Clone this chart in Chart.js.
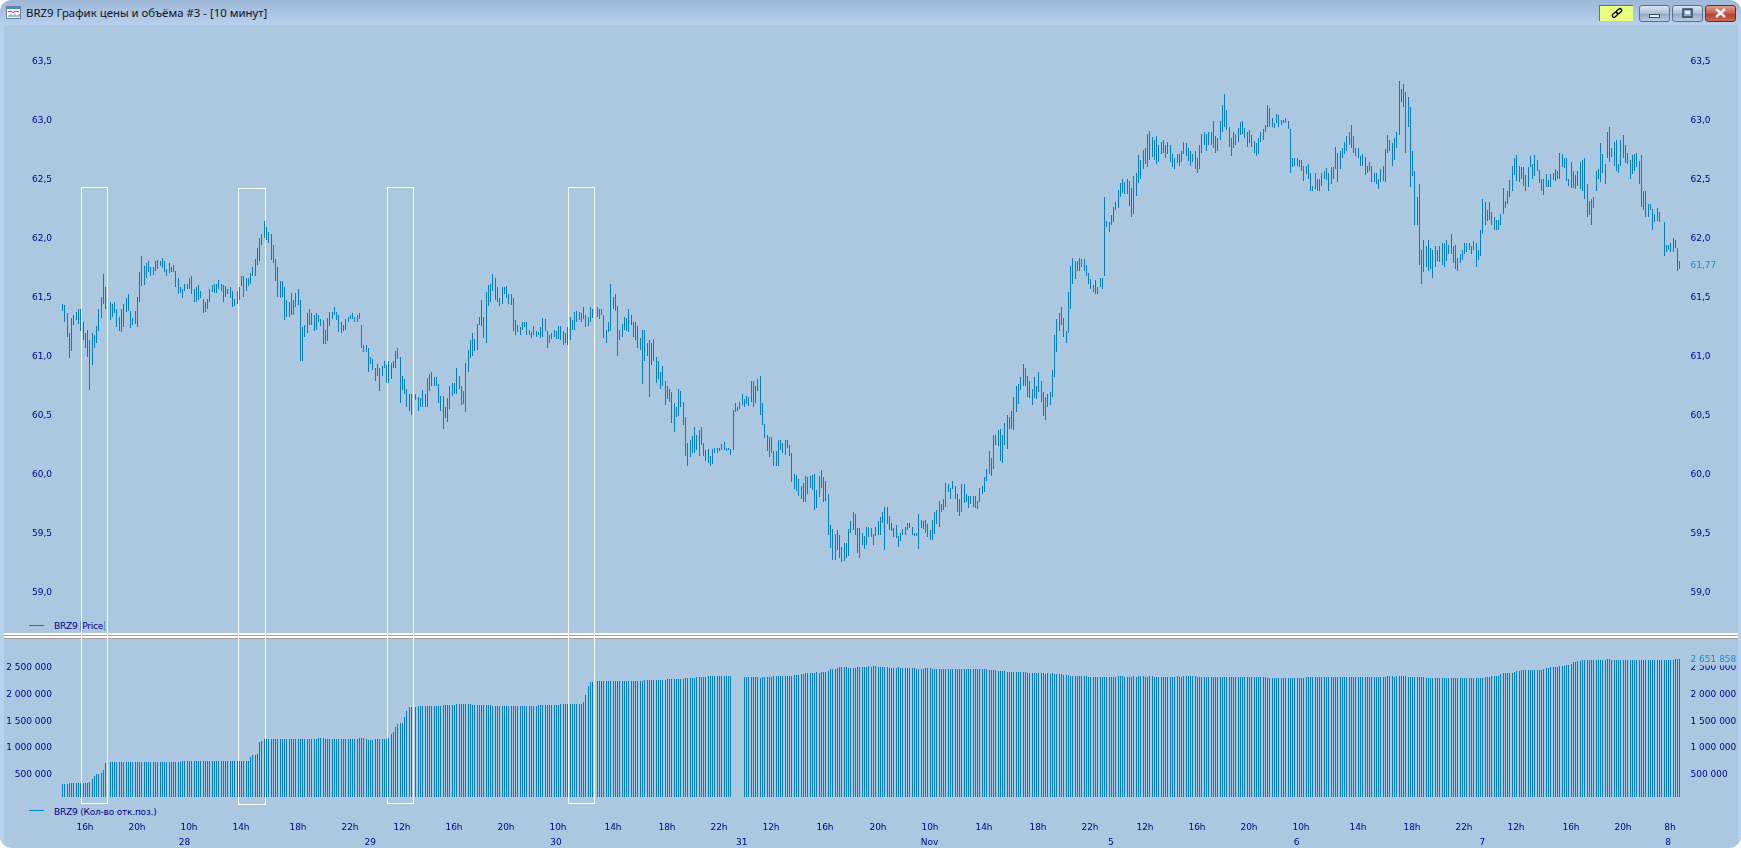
<!DOCTYPE html>
<html>
<head>
<meta charset="utf-8">
<title>BRZ9</title>
<script src="https://cdn.jsdelivr.net/npm/chart.js@4/dist/chart.umd.min.js"></script>
<style>
html, body { margin: 0; height: 100%; background: #fff; overflow: hidden; }
#win { position: absolute; left: 0; top: 0; width: 1741px; height: 848px; background: #abc8e0; border-radius: 12px; overflow: hidden; }
#titlebar { position: absolute; left: 0; top: 0; right: 0; height: 25px; background: linear-gradient(#9db8d8, #b7d0ec); }
#edgeL { position: absolute; left: 0; top: 25px; bottom: 0; width: 4px; background: #b8d1ec; }
#edgeR { position: absolute; right: 0; top: 25px; bottom: 0; width: 3px; background: #b8d1ec; }
#title { position: absolute; left: 26px; top: 5px; font: 11.4px "Noto Sans", sans-serif; color: #10131a; white-space: nowrap; }
#icon { position: absolute; left: 6px; top: 6px; }
.sep { position: absolute; left: 4px; right: 3px; height: 2px; background: #fff; border-bottom: 1px solid #a0a0a0; }
.btn { position: absolute; top: 5px; height: 15px; border: 1px solid #5d6f86; border-radius: 3px; background: linear-gradient(#dbe6f2, #a9bfd8 50%, #90a9c6 55%, #b9cde2); }
#link { left: 1599px; width: 33px; height: 15px; border: 0; border-top: 1px solid #6d6d6d; border-left: 1px solid #6d6d6d; border-radius: 0; background: #e6ff7c; }
#btnMin { left: 1639px; width: 29px; }
#btnMax { left: 1672px; width: 29px; }
#btnClose { left: 1705px; width: 29px; background: linear-gradient(#e39b8c, #c75b48 50%, #b2402e 55%, #cc6a55); border-color: #6e2b24; }
.btn svg, #link svg { position: absolute; left: 0; top: 0; }
canvas { position: absolute; left: 0; top: 0; }
.legend { position: absolute; font: 9px "DejaVu Sans", sans-serif; color: #00008b; white-space: nowrap; letter-spacing: -0.2px; }
.legendLine { position: absolute; width: 15px; height: 1px; }
#priceTag { border-left: 1px solid #6f8fc0; border-right: 1px solid #6f8fc0; padding: 0 1px; }
</style>
</head>
<body>
<div id="win">
  <div id="titlebar"></div>
  <div id="edgeL"></div>
  <div id="edgeR"></div>
  <svg id="icon" width="15" height="13" viewBox="0 0 15 13">
    <rect x="0.5" y="0.5" width="14" height="12" fill="#fff" stroke="#6a7f99"/>
    <rect x="1" y="1" width="13" height="2" fill="#3f8fd0"/>
    <path d="M2 6 L5 5 L7 6.5 L10 5 L13 6" stroke="#d8302a" fill="none"/>
    <path d="M3 11V9M5 11V8M7 11V9M9 11V8M11 11V9M13 11V8" stroke="#2f7fc0" fill="none"/>
  </svg>
  <div id="title">BRZ9 График цены и объёма #3 - [10 минут]</div>
  <div class="btn" id="link">
    <svg width="33" height="15" viewBox="0 0 33 15"><g stroke="#000" stroke-width="1.3" fill="none"><rect x="12" y="7" width="6" height="3.4" rx="1.6" transform="rotate(-40 15 8.7)"/><rect x="16" y="3.5" width="6" height="3.4" rx="1.6" transform="rotate(-40 19 5.2)"/></g></svg>
  </div>
  <div class="btn" id="btnMin"><svg width="29" height="15"><rect x="9.5" y="8.5" width="10" height="3" fill="#e8eef5" stroke="#3c4a5c"/></svg></div>
  <div class="btn" id="btnMax"><svg width="29" height="15"><rect x="10" y="3" width="9" height="8" fill="#8ea8c4" stroke="#2f3b4b" stroke-width="1.4"/><rect x="12" y="5" width="5" height="3" fill="#e8eef5"/></svg></div>
  <div class="btn" id="btnClose"><svg width="29" height="15"><path d="M10 3L19 11M19 3L10 11" stroke="#f4f4f4" stroke-width="2.6"/></svg></div>
  <div class="sep" style="top:633px"></div>
  <div class="sep" style="top:636px"></div>
  <div class="legendLine" style="left:29px;top:625px;background:#2f6fa8"></div>
  <div class="legend" style="left:54px;top:621px">BRZ9 <span id="priceTag">Price</span></div>
  <div class="legendLine" style="left:29px;top:810px;background:#0088cc"></div>
  <div class="legend" style="left:54px;top:807px">BRZ9 (Кол-во отк.поз.)</div>
  <canvas id="chart" width="1741" height="848"></canvas>
</div>
<script>
// high of each 10 minute bar
const priceHigh = [
61.44,61.43,61.36,61.19,61.32,61.34,61.37,61.39,61.39,61.28,
61.19,61.22,61.13,61.19,61.17,61.25,61.39,61.50,61.69,61.58,
61.47,61.45,61.44,61.45,61.39,61.33,61.39,61.44,61.49,61.52,
61.38,61.32,61.38,61.50,61.71,61.84,61.76,61.78,61.80,61.75,
61.75,61.80,61.81,61.80,61.83,61.80,61.73,61.78,61.75,61.77,
61.72,61.66,61.58,61.56,61.61,61.61,61.66,61.67,61.56,61.58,
61.60,61.55,61.48,61.45,61.48,61.56,61.60,61.61,61.61,61.64,
61.61,61.60,61.59,61.56,61.58,61.55,61.48,61.55,61.58,61.67,
61.67,61.66,61.66,61.70,61.75,61.82,61.91,62.00,62.03,62.14,
62.09,62.05,62.03,61.94,61.82,61.75,61.63,61.63,61.58,61.47,
61.45,61.53,61.47,61.53,61.56,61.47,61.24,61.26,61.36,61.39,
61.36,61.34,61.36,61.34,61.31,61.30,61.22,61.32,61.37,61.37,
61.41,61.37,61.34,61.28,61.26,61.31,61.33,61.34,
61.36,61.33,61.34,61.36,61.26,61.09,61.09,61.06,60.99,60.97,
60.89,60.93,60.89,60.91,60.95,60.92,60.95,60.94,60.95,61.04,
61.06,60.99,60.83,60.80,60.72,60.67,60.67,60.67,60.67,60.65,
60.64,60.71,60.67,60.81,60.84,60.86,60.82,60.82,60.76,60.66,
60.66,60.56,60.64,60.74,60.77,60.77,60.89,60.83,60.74,60.70,
60.94,61.05,61.13,61.19,61.14,61.27,61.33,61.47,61.33,61.54,
61.60,61.61,61.69,61.66,61.58,61.49,61.58,61.58,61.59,61.52,
61.52,61.49,61.30,61.26,61.24,61.28,61.28,61.28,61.22,61.20,
61.25,61.21,61.20,61.24,61.32,61.31,61.21,61.17,61.19,61.22,
61.21,61.25,61.25,61.21,61.19,61.24,61.33,61.30,61.37,61.38,
61.37,61.36,61.41,61.34,61.33,61.41,61.39,61.40,61.41,61.39,
61.39,61.34,61.22,61.28,61.61,61.50,61.52,61.42,61.22,61.27,
61.33,
61.32,61.39,61.34,61.28,61.28,61.25,61.15,61.22,61.22,61.11,
61.13,61.11,61.14,60.99,60.95,60.86,60.91,60.78,60.74,60.72,
60.69,60.60,60.56,60.72,60.70,60.61,60.48,60.26,60.28,60.32,
60.39,60.33,60.37,60.39,60.26,60.20,60.21,60.15,60.21,60.22,
60.22,60.22,60.25,60.27,60.22,60.22,60.21,60.54,60.60,60.56,
60.61,60.67,60.63,60.66,60.65,60.78,60.78,60.74,60.80,60.83,
60.60,60.42,60.33,60.31,60.31,60.19,60.19,60.28,60.28,60.26,
60.28,60.28,60.24,60.17,60.00,59.99,59.95,59.89,59.92,59.98,
59.97,59.98,59.99,60.00,59.86,59.98,60.03,59.97,59.94,59.83,
59.56,59.53,59.49,59.52,59.48,59.38,59.41,59.41,59.53,59.60,
59.67,59.66,59.54,59.54,59.50,59.47,59.55,59.55,59.54,59.49,
59.55,59.60,59.63,59.67,59.72,59.72,59.64,59.58,59.54,59.56,
59.47,
59.50,59.53,59.55,59.58,59.58,59.55,59.50,59.50,59.66,59.61,
59.60,59.61,59.57,59.52,59.61,59.67,59.69,59.77,59.74,59.78,
59.92,59.91,59.88,59.94,59.89,59.83,59.78,59.91,59.91,59.83,
59.81,59.81,59.81,59.81,59.77,59.88,59.89,59.97,60.04,60.19,
60.13,60.33,60.33,60.37,60.38,60.33,60.43,60.50,60.48,60.53,
60.65,60.74,60.76,60.82,60.93,60.89,60.83,60.78,60.72,60.82,
60.74,60.86,60.78,60.69,60.65,60.67,60.69,60.88,61.17,61.31,
61.36,61.41,61.32,61.21,61.54,61.76,61.83,61.80,61.80,61.83,
61.82,61.82,61.77,61.70,61.65,61.60,61.64,61.58,61.66,61.66,
62.34,62.14,62.13,62.19,62.26,62.30,62.40,
62.46,62.50,62.47,62.50,62.48,62.42,62.52,
62.55,62.70,62.66,62.74,62.76,62.88,62.90,62.85,62.83,62.86,62.78,
62.81,62.83,62.78,62.81,62.78,62.71,62.67,62.71,62.71,62.73,
62.81,62.80,62.76,62.73,62.71,62.73,62.67,62.78,62.88,62.89,
62.88,62.89,62.89,62.99,62.86,62.84,62.99,63.12,63.22,63.08,
62.94,62.84,62.89,62.88,62.93,62.98,62.99,62.93,62.89,62.91,
62.87,62.82,62.80,62.84,62.89,62.92,62.95,63.12,63.10,63.01,
62.97,63.05,63.04,63.00,63.00,63.01,62.99,62.92,62.67,62.67,
62.67,62.66,62.66,62.61,62.61,62.62,62.55,62.44,62.55,62.50,
62.50,62.55,62.56,62.59,62.55,62.60,62.60,62.77,62.72,62.73,
62.76,62.81,62.86,62.89,62.95,62.86,62.76,62.76,62.69,62.71,
62.68,62.61,62.64,62.61,62.55,62.55,62.50,62.58,62.61,62.75,
62.87,62.83,62.80,62.84,62.89,63.33,63.26,63.30,63.23,63.19,
63.11,62.73,62.56,62.34,62.45,61.89,61.98,61.93,61.98,
61.91,61.89,61.93,61.89,61.93,61.95,61.95,61.98,61.94,62.03,
61.93,61.94,61.83,61.86,61.89,61.95,61.95,61.95,61.93,61.97,
61.95,61.89,62.06,62.33,62.30,62.23,62.30,62.22,62.17,62.15,
62.15,62.20,62.42,62.31,62.39,62.49,62.61,62.67,62.70,62.61,
62.60,62.60,62.53,62.60,62.69,62.62,62.70,62.66,62.57,62.50,
62.50,62.54,62.49,62.54,62.55,62.58,62.56,62.72,62.71,62.67,
62.67,62.50,62.64,62.56,62.53,62.56,62.64,62.66,62.67,62.45,
62.31,62.33,62.34,62.56,62.58,62.80,62.71,62.62,62.89,62.94,
62.76,62.81,62.83,62.62,62.83,62.87,62.78,62.72,62.66,62.70,
62.71,62.72,62.65,62.70,62.39,62.39,62.28,62.28,62.24,62.20,
62.25,62.22,null,62.13,61.94,61.94,61.95,62.00,61.98,61.91,
61.80
];

// low of each 10 minute bar
const priceLow = [
61.38,61.28,61.16,60.98,61.04,61.26,61.30,61.27,61.21,61.13,
61.06,60.99,60.71,60.92,61.06,61.11,61.21,61.32,61.44,61.39,
61.37,61.30,61.33,61.36,61.24,61.21,61.20,61.24,61.37,61.38,
61.23,61.26,61.27,61.24,61.45,61.59,61.60,61.66,61.71,61.67,
61.68,61.72,61.73,61.76,61.74,61.71,61.67,61.70,61.71,61.71,
61.58,61.52,61.53,61.49,61.55,61.56,61.56,61.52,61.45,61.45,
61.47,61.49,61.36,61.37,61.39,61.45,61.54,61.53,61.53,61.56,
61.55,61.45,61.50,61.52,61.49,61.41,61.42,61.44,61.47,61.59,
61.50,61.55,61.59,61.61,61.67,61.67,61.77,61.80,61.94,62.00,
61.98,61.95,61.81,61.78,61.63,61.50,61.49,61.50,61.30,61.33,
61.33,61.34,61.34,61.41,61.43,60.95,60.95,61.16,61.19,61.26,
61.26,61.21,61.22,61.28,61.25,61.10,61.10,61.12,61.25,61.31,
61.34,61.30,61.20,61.19,61.21,61.22,61.28,61.31,
61.31,61.28,61.28,61.31,61.06,61.03,61.03,60.86,60.93,60.88,
60.78,60.83,60.70,60.83,60.89,60.77,60.77,60.80,60.89,60.89,
60.97,60.60,60.71,60.67,60.56,60.53,60.50,60.60,60.62,60.53,
60.56,60.56,60.56,60.56,60.70,60.74,60.74,60.74,60.60,60.53,
60.38,60.47,60.44,60.55,60.66,60.67,60.67,60.72,60.58,60.59,
60.52,60.86,60.98,61.00,61.04,61.05,61.26,61.25,61.15,61.11,
61.42,61.45,61.55,61.47,61.45,61.42,61.44,61.52,61.49,61.44,
61.43,61.21,61.17,61.20,61.17,61.22,61.24,61.17,61.17,61.15,
61.17,61.16,61.17,61.15,61.16,61.21,61.06,61.11,61.14,61.16,
61.14,61.14,61.13,61.09,61.11,61.09,61.13,61.22,61.22,61.28,
61.30,61.28,61.31,61.24,61.25,61.28,61.32,61.33,61.33,61.31,
61.34,61.15,61.11,61.20,61.21,61.39,61.38,61.00,61.13,61.16,
61.22,
61.21,61.20,61.26,61.16,61.13,61.06,61.05,60.76,60.95,61.00,
60.65,60.92,60.95,60.77,60.80,60.72,60.74,60.58,60.63,60.61,
60.43,60.35,60.48,60.49,60.56,60.41,60.15,60.06,60.14,60.17,
60.17,60.20,60.15,60.24,60.15,60.11,60.09,60.06,60.08,60.17,
60.17,60.19,60.20,60.20,60.19,60.20,60.16,60.20,60.52,60.53,
60.55,60.58,60.56,60.59,60.57,60.61,60.56,60.60,60.70,60.50,
60.41,60.30,60.19,60.14,60.17,60.06,60.06,60.06,60.20,60.17,
60.16,60.22,60.15,59.93,59.87,59.85,59.81,59.78,59.76,59.76,
59.83,59.88,59.86,59.69,59.71,59.80,59.88,59.76,59.77,59.48,
59.37,59.27,59.27,59.35,59.28,59.25,59.26,59.28,59.30,59.50,
59.52,59.48,59.33,59.28,59.39,59.36,59.39,59.46,59.46,59.39,
59.47,59.48,59.48,59.58,59.35,59.57,59.52,59.51,59.46,59.45,
59.38,
59.43,59.48,59.48,59.52,59.54,59.48,59.47,59.47,59.36,59.54,
59.53,59.50,59.46,59.44,59.44,59.49,59.57,59.55,59.67,59.69,
59.72,59.84,59.78,59.87,59.78,59.67,59.64,59.67,59.75,59.76,
59.71,59.74,59.72,59.71,59.70,59.76,59.83,59.84,59.94,60.00,
59.98,60.04,60.24,60.23,60.11,60.09,60.24,60.21,60.38,60.38,
60.37,60.52,60.59,60.71,60.74,60.74,60.65,60.64,60.58,60.64,
60.63,60.69,60.61,60.49,60.45,60.56,60.58,60.65,60.82,61.03,
61.21,61.26,61.16,61.11,61.19,61.39,61.61,61.65,61.72,61.72,
61.75,61.72,61.67,61.61,61.56,61.54,61.52,61.52,61.58,61.56,
61.67,62.09,62.05,62.11,62.13,62.23,62.25,
62.34,62.38,62.37,62.37,62.27,62.17,62.20,
62.35,62.46,62.50,62.58,62.62,62.60,62.66,62.68,62.66,62.62,62.64,
62.71,62.72,62.67,62.71,62.64,62.60,62.58,62.63,62.61,62.64,
62.71,62.69,62.65,62.61,62.64,62.58,62.55,62.58,62.72,62.78,
62.73,62.78,62.78,62.76,62.72,62.73,62.83,62.89,62.94,62.91,
62.77,62.69,62.76,62.78,62.81,62.87,62.88,62.84,62.77,62.80,
62.77,62.72,62.69,62.71,62.81,62.83,62.89,62.94,62.94,62.94,
62.93,62.97,62.94,62.95,62.97,62.97,62.92,62.55,62.60,62.61,
62.61,62.60,62.56,62.48,62.54,62.50,62.39,62.39,62.41,62.39,
62.39,62.44,62.50,62.49,62.39,62.45,62.50,62.58,62.47,62.58,
62.67,62.71,62.73,62.78,62.76,62.72,62.69,62.67,62.61,62.61,
62.53,62.55,62.56,62.47,62.47,62.45,62.41,62.47,62.48,62.47,
62.72,62.73,62.61,62.66,62.76,62.87,63.15,63.11,62.72,62.94,
62.43,62.52,62.11,62.11,61.77,61.61,61.71,61.75,61.72,
61.73,61.66,61.75,61.80,61.79,61.77,61.75,61.80,61.86,61.86,
61.78,61.73,61.72,61.78,61.81,61.86,61.88,61.89,61.86,61.89,
61.75,61.81,61.84,62.03,62.11,62.14,62.15,62.11,62.06,62.06,
62.06,62.11,62.20,62.25,62.28,62.34,62.39,62.53,62.48,62.47,
62.50,62.44,62.39,62.43,62.60,62.50,62.52,62.56,62.46,62.39,
62.36,62.43,62.43,62.43,62.49,62.48,62.50,62.50,62.60,62.59,
62.48,62.44,62.42,62.42,62.41,62.44,62.41,62.39,62.33,62.17,
62.19,62.11,62.25,62.39,62.50,62.47,62.55,62.45,62.67,62.64,
62.68,62.61,62.56,62.55,62.61,62.67,62.63,62.62,62.50,62.54,
62.56,62.60,62.45,62.26,62.23,62.17,62.17,62.23,62.06,62.13,
62.14,62.13,null,61.84,61.88,61.89,61.88,61.88,61.91,61.72,
61.73
];

// open positions per bar, in thousands
const openInterestK = [
320,320,320,340,340,340,340,340,340,340,
340,340,350,410,470,505,510,525,580,710,
730,730,730,730,730,730,730,730,730,730,
730,730,730,730,730,730,730,730,730,730,
730,730,730,730,730,730,730,730,730,730,
730,730,730,750,750,750,750,750,750,750,
750,750,750,750,750,750,750,750,750,750,
750,750,750,750,750,750,750,750,750,750,
750,750,750,820,860,865,870,1100,1120,1155,
1155,1155,1155,1155,1155,1155,1155,1155,1155,1155,
1155,1155,1155,1155,1155,1155,1155,1155,1155,1155,
1155,1155,1155,1170,1170,1170,1155,1155,1155,1155,
1155,1155,1155,1155,1155,1155,1155,1155,1155,1155,
1155,1170,1170,1170,1150,1140,1140,1140,1155,1155,
1155,1155,1155,1155,1170,1250,1290,1380,1430,1450,
1450,1565,1680,1750,1750,1750,1750,1770,1770,1770,
1770,1770,1770,1770,1770,1770,1770,1770,1790,1790,
1790,1790,1790,1790,1807,1807,1807,1807,1807,1807,
1807,1790,1790,1790,1790,1790,1790,1790,1790,1790,
1770,1770,1770,1770,1770,1770,1770,1770,1770,1770,
1770,1770,1770,1770,1770,1770,1770,1770,1770,1770,
1790,1790,1790,1790,1790,1790,1790,1790,1790,1790,
1807,1807,1807,1807,1807,1807,1807,1807,1807,1807,
1840,1970,2140,2215,2215,2215,2230,2230,2230,2230,
2230,2230,2230,2230,2230,2230,2230,2230,2230,2230,
2230,2230,2230,2230,2230,2230,2230,2250,2250,2250,
2250,2250,2250,2250,2250,2250,2250,2270,2270,2270,
2270,2270,2270,2270,2270,2290,2290,2290,2290,2290,
2310,2310,2310,2310,2310,2330,2330,2330,2330,2330,
2330,2330,2330,2330,2330,2330,null,null,null,null,
null,2310,2310,2310,2310,2310,2310,2310,2290,2310,
2310,2310,2310,2310,2330,2330,2330,2330,2330,2330,
2330,2330,2330,2350,2350,2350,2365,2365,2380,2380,
2380,2380,2380,2400,2380,2400,2400,2400,2420,2457,
2457,2457,2475,2495,2495,2495,2495,2475,2475,2475,
2475,2495,2495,2495,2495,2495,2510,2495,2510,2510,
2495,2495,2495,2495,2495,2475,2475,2475,2475,2495,
2475,2475,2475,2475,2475,2475,2475,2457,2457,2457,
2457,2475,2475,2475,2457,2457,2457,2457,2457,2457,
2457,2457,2457,2457,2457,2457,2457,2457,2457,2457,
2457,2457,2457,2457,2457,2457,2457,2457,2457,2440,
2440,2440,2440,2420,2420,2420,2420,2400,2400,2400,
2400,2400,2400,2400,2400,2400,2380,2380,2380,2380,
2380,2380,2380,2380,2365,2380,2365,2380,2365,2365,
2365,2365,2345,2345,2345,2330,2330,2330,2330,2330,
2330,2330,2330,2310,2310,2310,2310,2310,2310,2310,
2310,2310,2310,2310,2310,2310,2330,2330,2330,2310,
2310,2310,2310,2330,2310,2330,2330,2330,2310,2310,
2330,2330,2310,2310,2310,2310,2310,2310,2310,2310,
2310,2310,2330,2310,2310,2330,2330,2330,2330,2330,
2330,2310,2310,2310,2310,2310,2310,2310,2310,2310,
2310,2310,2310,2310,2310,2310,2310,2310,2310,2310,
2310,2310,2310,2310,2310,2310,2310,2310,2310,2310,
2310,2310,2290,2290,2290,2290,2290,2290,2290,2290,
2290,2290,2290,2290,2290,2290,2290,2290,2290,2310,
2310,2310,2310,2310,2310,2310,2310,2310,2310,2310,
2310,2310,2310,2310,2310,2310,2310,2310,2310,2310,
2310,2310,2310,2310,2310,2310,2310,2310,2310,2310,
2310,2310,2310,2310,2310,2330,2330,2330,2310,2330,
2330,2330,2330,2330,2310,2310,2310,2310,2310,2310,
2310,2310,2290,2290,2290,2290,2290,2290,2290,2290,
2290,2290,2290,2290,2290,2290,2290,2290,2290,2290,
2290,2290,2290,2290,2290,2290,2290,2290,2310,2310,
2310,2327,2327,2327,2327,2360,2383,2383,2383,2383,
2383,2400,2420,2420,2440,2440,2440,2440,2440,2440,
2440,2440,2440,2440,2457,2476,2476,2494,2494,2494,
2494,2513,2513,2513,2530,2530,2556,2587,2587,2606,
2606,2625,2625,2625,2625,2625,2625,2625,2625,2625,
2625,2625,2643,2643,2625,2625,2625,2625,2625,2625,
2625,2625,2625,2625,2625,2625,2625,2625,2625,2625,
2625,2625,2625,2625,2625,2625,2625,2625,2625,2625,
2625,2625,2643,2643,2651.858
];

const lastPrice = 61.77;
const lastOpenInterestK = 2651.858;

// tick marks of the open positions pane, in thousands
const oiTickValues = [500, 1000, 1500, 2000, 2500];

// hour ticks and day ticks, by bar number
const hourTickBars = [10,33,56,79,104,127,150,173,196,219,243,267,290,313,337,360,383,407,431,454,478,501,524,547,572,596,619,642,666,689,710];
const hourTickText = ['16h','20h','10h','14h','18h','22h','12h','16h','20h','10h','14h','18h','22h','12h','16h','20h','10h','14h','18h','22h','12h','16h','20h','10h','14h','18h','22h','12h','16h','20h','8h'];
const dayTickBars = [54,136,218,300,383,463,545,627,709];
const dayTickText = ['28','29','30','31','Nov','5','6','7','8'];

// the white frames marked on the screenshot, in bar numbers, price and open positions
const frameFromBar = [8.26,77.7,143.5,223.4];
const frameToBar = [19.96,89.4,155,234.9];
const frameTopPrice = [62.43,62.42,62.43,62.43];
const frameBottomOiK = [-39,-58,-39,-39];

const barLabels = priceHigh.map((v, i) => String(i));
const navy = '#00008b';
const lastColor = '#1c8ac6';
const barColor = '#0080c4';
const paneColor = '#abc8e0';
const tickFont = { family: 'DejaVu Sans', size: 9 };

function pairs(lo, hi) {
    return hi.map((h, i) => (h === null ? null : [lo[i], h]));
}

function priceLabel(v) {
    return v === lastPrice ? v.toFixed(2).replace('.', ',') : v.toFixed(1).replace('.', ',');
}

function oiLabel(v) {
    return Math.round(v * 1000).toString().replace(/\B(?=(\d{3})+$)/g, ' ');
}

// one pixel bars sit half a pixel off after rounding, shift them back
const crispBars = {
    id: 'crispBars',
    beforeDatasetsDraw(chart) {
        chart.ctx.save();
        chart.ctx.translate(0.5, 0);
    },
    afterDatasetsDraw(chart) {
        chart.ctx.restore();
    }
};

const frames = {
    id: 'frames',
    afterDraw(chart) {
        const ctx = chart.ctx;
        const s = chart.scales;
        ctx.save();
        ctx.strokeStyle = '#ffffff';
        ctx.lineWidth = 1;
        frameFromBar.forEach((from, i) => {
            const x1 = s.x.getPixelForValue(from) + 0.5;
            const x2 = s.x.getPixelForValue(frameToBar[i]) + 0.5;
            const y1 = Math.round(s.yPrice.getPixelForValue(frameTopPrice[i])) + 0.5;
            const y2 = Math.round(s.yOi.getPixelForValue(frameBottomOiK[i])) + 0.5;
            ctx.strokeRect(x1, y1, x2 - x1, y2 - y1);
        });
        ctx.restore();
    }
};

function priceAxis(position, weight, extra) {
    return Object.assign({
        type: 'linear',
        position: position,
        stack: 'panes' + position,
        stackWeight: 607,
        weight: weight,
        min: 58.64,
        max: 63.784,
        alignToPixels: true,
        grid: { display: false, drawTicks: false },
        border: { display: false },
        ticks: {
            stepSize: 0.5, includeBounds: false, font: tickFont, callback: priceLabel, labelOffset: 1,
            color: c => (c.tick && c.tick.value === lastPrice ? lastColor : navy),
            padding: position === 'left' ? 9 : 10
        },
        afterFit: s => { s.width = position === 'left' ? 61 : 60.5; }
    }, extra);
}

function oiAxis(position, weight, extra) {
    return Object.assign({
        type: 'linear',
        position: position,
        stack: 'panes' + position,
        stackWeight: 163,
        weight: weight,
        min: 78,
        max: 3108,
        alignToPixels: true,
        grid: { display: false, drawTicks: false },
        border: { display: false },
        afterBuildTicks: s => { s.ticks = oiTickValues.map(v => ({ value: v })); },
        ticks: {
            font: tickFont, callback: oiLabel, labelOffset: 1,
            color: c => (c.tick && c.tick.value === lastOpenInterestK ? lastColor : navy),
            padding: position === 'left' ? 9 : 10,
            // the last value label covers the tick under it
            showLabelBackdrop: c => !!c.tick && c.tick.value === lastOpenInterestK,
            backdropColor: paneColor,
            backdropPadding: 0
        },
        afterFit: s => { s.width = position === 'left' ? 61 : 60.5; }
    }, extra);
}

const barStyle = { barThickness: 1, grouped: false, inflateAmount: 0, borderWidth: 0, backgroundColor: barColor };

new Chart(document.getElementById('chart'), {
    type: 'bar',
    data: {
        labels: barLabels,
        datasets: [
            Object.assign({ label: 'BRZ9 Price', data: pairs(priceLow, priceHigh), yAxisID: 'yPrice' }, barStyle),
            Object.assign({ label: 'BRZ9 (Кол-во отк.поз.)', data: openInterestK, yAxisID: 'yOi' }, barStyle)
        ]
    },
    options: {
        responsive: false,
        animation: false,
        events: [],
        layout: { padding: { top: 27, left: 0, right: 0, bottom: 0 } },
        plugins: { legend: { display: false }, tooltip: { enabled: false } },
        scales: {
            x: {
                type: 'category',
                position: 'bottom',
                weight: 0,
                offset: true,
                alignToPixels: true,
                grid: { display: false, drawTicks: false },
                border: { display: false },
                afterBuildTicks: s => { s.ticks = hourTickBars.map(v => ({ value: v })); },
                ticks: { autoSkip: false, maxRotation: 0, padding: 25, font: tickFont, color: navy, callback: (v, i) => hourTickText[i] },
                afterFit: s => { s.height = 37; }
            },
            xDay: {
                type: 'category',
                position: 'bottom',
                weight: 1,
                offset: true,
                grid: { display: false, drawTicks: false },
                border: { display: false },
                afterBuildTicks: s => { s.ticks = dayTickBars.map(v => ({ value: v })); },
                ticks: { autoSkip: false, maxRotation: 0, padding: 3, font: tickFont, color: navy, callback: (v, i) => dayTickText[i] },
                afterFit: s => { s.height = 14; }
            },
            yPrice: priceAxis('left', 1),
            yOi: oiAxis('left', 0),
            yPriceR: priceAxis('right', 0, {
                afterBuildTicks: s => { s.ticks.push({ value: lastPrice }); }
            }),
            yOiR: oiAxis('right', 1, {
                afterBuildTicks: s => {
                    s.ticks = oiTickValues.concat([lastOpenInterestK]).map(v => ({ value: v }));
                }
            })
        }
    },
    plugins: [crispBars, frames]
});
</script>
</body>
</html>
